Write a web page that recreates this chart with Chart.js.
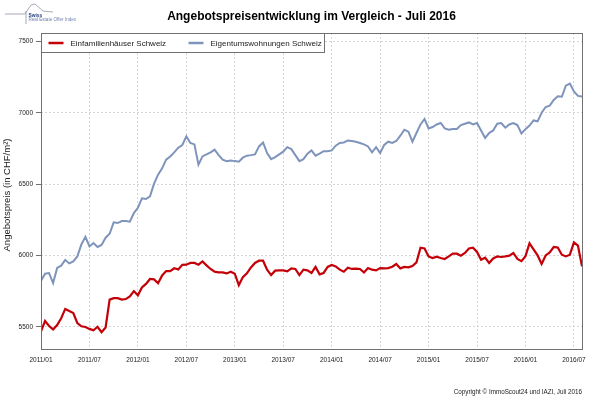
<!DOCTYPE html>
<html>
<head>
<meta charset="utf-8">
<script src="https://cdn.jsdelivr.net/npm/chart.js@4/dist/chart.umd.min.js"></script>
<style>
html,body{margin:0;padding:0;background:#ffffff;}
canvas{display:block;}
</style>
</head>
<body>
<canvas id="c" width="600" height="400"></canvas>
<script>
// ---- texts ----
const chartTitle = 'Angebotspreisentwicklung im Vergleich - Juli 2016';
const yAxisTitle = 'Angebotspreis (in CHF/m²)';
const seriesNames = ['Einfamilienhäuser Schweiz', 'Eigentumswohnungen Schweiz'];
const copyrightText = 'Copyright © ImmoScout24 und IAZI, Juli 2016';
const logoTitle = 'Swiss';
const logoSubtitle = 'Real Estate Offer Index';

// ---- axes ----
// x values are months since 2011/01; one reading every half month
const stepMonths = 0.5;
const xMinMonth = 0;
const xMaxMonth = 67;
const xTickMonths = [0, 6, 12, 18, 24, 30, 36, 42, 48, 54, 60, 66];
const xTickLabels = ['2011/01', '2011/07', '2012/01', '2012/07', '2013/01', '2013/07',
                     '2014/01', '2014/07', '2015/01', '2015/07', '2016/01', '2016/07'];
const yTickValues = [5500, 6000, 6500, 7000, 7500];
const yMin = 5344;
const yMax = 7559;

// ---- series (CHF/m2) ----
const einfamilienhaeuser = [
  5467, 5540, 5505, 5481, 5512, 5560, 5625, 5610, 5596, 5526,
  5503, 5498, 5485, 5475, 5500, 5462, 5495, 5690, 5700, 5700,
  5690, 5694, 5713, 5750, 5720, 5775, 5800, 5835, 5832, 5805,
  5860, 5890, 5890, 5910, 5902, 5934, 5935, 5947, 5947, 5935,
  5958, 5930, 5905, 5886, 5881, 5881, 5874, 5886, 5872, 5792,
  5848, 5874, 5916, 5947, 5963, 5963, 5900, 5862, 5893, 5895,
  5895, 5888, 5909, 5905, 5862, 5900, 5895, 5877, 5919, 5867,
  5877, 5919, 5933, 5923, 5900, 5886, 5914, 5905, 5907, 5905,
  5881, 5911, 5900, 5895, 5911, 5909, 5911, 5921, 5940, 5909,
  5919, 5916, 5926, 5951, 6054, 6049, 5993, 5982, 5991, 5982,
  5975, 5993, 6012, 6012, 5998, 6017, 6049, 6054, 6024, 5970,
  5984, 5947, 5979, 5993, 5989, 5993, 5998, 6017, 5975, 5960,
  5995, 6085, 6042, 6000, 5940, 6000, 6021, 6059, 6055, 6005,
  5993, 6005, 6091, 6068, 5923
];
const eigentumswohnungen = [
  5823, 5872, 5876, 5806, 5912, 5928, 5968, 5944, 5958, 5993,
  6077, 6130, 6063, 6087, 6059, 6073, 6124, 6152, 6232, 6227,
  6241, 6241, 6236, 6297, 6334, 6400, 6395, 6414, 6503, 6566,
  6610, 6671, 6694, 6722, 6755, 6774, 6834, 6788, 6778, 6636,
  6694, 6708, 6722, 6741, 6703, 6671, 6661, 6666, 6661, 6657,
  6685, 6699, 6703, 6708, 6764, 6792, 6717, 6675, 6689, 6708,
  6727, 6759, 6745, 6703, 6661, 6675, 6713, 6736, 6699, 6713,
  6731, 6731, 6736, 6769, 6788, 6792, 6806, 6802, 6797, 6788,
  6778, 6764, 6722, 6759, 6717, 6774, 6797, 6788, 6802, 6839,
  6881, 6867, 6797, 6858, 6918, 6956, 6890, 6900, 6918, 6928,
  6890, 6881, 6886, 6886, 6914, 6923, 6932, 6918, 6928, 6876,
  6823, 6858, 6876, 6923, 6928, 6895, 6918, 6928, 6914, 6855,
  6885, 6910, 6946, 6940, 7000, 7040, 7050, 7090, 7115, 7112,
  7190, 7205, 7150, 7118, 7114
];

// ---- styles ----
const FONT = "'Liberation Sans', Arial, Helvetica, sans-serif";
const colorRed = '#c40008';
const colorBlue = '#7f94bb';
const colorFrame = '#707070';
const colorGrid = '#d6d6d6';
const colorText = '#1a1a1a';

Chart.defaults.font.family = FONT;

const toPoints = arr => arr.map((v, i) => ({ x: xMinMonth + i * stepMonths, y: v }));

const decorPlugin = {
  id: 'decor',
  afterDraw(chart) {
    const ctx = chart.ctx;
    const a = chart.chartArea;
    ctx.save();

    // frame around plot
    const L = Math.round(a.left) + 0.5, T = Math.round(a.top) + 0.5;
    const R = Math.round(a.right) + 0.5, B = Math.round(a.bottom) + 0.5;
    ctx.strokeStyle = colorFrame;
    ctx.lineWidth = 1;
    ctx.setLineDash([]);
    ctx.strokeRect(L, T, R - L, B - T);

    // legend box
    const lgW = 283, lgH = 19;
    ctx.fillStyle = '#ffffff';
    ctx.fillRect(L, T, lgW, lgH);
    ctx.strokeStyle = colorFrame;
    ctx.strokeRect(L, T, lgW, lgH);
    const ly = T + 9.5;
    const entries = [
      { x: L + 7, color: colorRed, w: 2.5, text: seriesNames[0] },
      { x: L + 147, color: colorBlue, w: 2.5, text: seriesNames[1] }
    ];
    ctx.font = '8px ' + FONT;
    ctx.textBaseline = 'middle';
    ctx.textAlign = 'left';
    entries.forEach(e => {
      ctx.strokeStyle = e.color;
      ctx.lineWidth = e.w;
      ctx.beginPath();
      ctx.moveTo(e.x, ly);
      ctx.lineTo(e.x + 15, ly);
      ctx.stroke();
      ctx.fillStyle = colorText;
      ctx.fillText(e.text, e.x + 22, ly + 0.5);
    });

    // title
    ctx.fillStyle = '#000000';
    ctx.font = 'bold 12px ' + FONT;
    ctx.textAlign = 'center';
    ctx.textBaseline = 'middle';
    ctx.fillText(chartTitle, (a.left + a.right) / 2, 17);

    // y axis title
    ctx.save();
    ctx.translate(7, 195);
    ctx.rotate(-Math.PI / 2);
    ctx.font = '9.5px ' + FONT;
    ctx.fillStyle = colorText;
    ctx.textAlign = 'center';
    ctx.textBaseline = 'middle';
    ctx.fillText(yAxisTitle, 0, 0);
    ctx.restore();

    // copyright
    ctx.font = '6.3px ' + FONT;
    ctx.fillStyle = colorText;
    ctx.textAlign = 'right';
    ctx.textBaseline = 'middle';
    ctx.fillText(copyrightText, a.right, 392);

    // logo
    ctx.strokeStyle = '#8e96a6';
    ctx.lineWidth = 0.8;
    ctx.beginPath();
    ctx.moveTo(5, 14);
    ctx.lineTo(25, 14);
    ctx.lineTo(31, 5);
    ctx.lineTo(35, 4);
    ctx.lineTo(43, 11);
    ctx.lineTo(53, 12);
    ctx.moveTo(26, 11);
    ctx.lineTo(26, 24);
    ctx.stroke();
    ctx.textAlign = 'left';
    ctx.font = 'bold 4.8px ' + FONT;
    ctx.fillStyle = '#1f3f7a';
    ctx.fillText(logoTitle, 28.5, 15.5);
    ctx.font = '4.6px ' + FONT;
    ctx.fillStyle = '#6f84ad';
    ctx.fillText(logoSubtitle, 28.5, 20);

    ctx.restore();
  }
};

new Chart(document.getElementById('c').getContext('2d'), {
  type: 'line',
  data: {
    datasets: [
      { label: seriesNames[0], data: toPoints(einfamilienhaeuser), borderColor: colorRed,
        borderWidth: 2.2, pointRadius: 0, tension: 0, fill: false },
      { label: seriesNames[1], data: toPoints(eigentumswohnungen), borderColor: colorBlue,
        borderWidth: 2, pointRadius: 0, tension: 0, fill: false }
    ]
  },
  options: {
    responsive: false,
    animation: false,
    layout: { padding: { top: 33, right: 18, left: 0, bottom: 0 } },
    plugins: { legend: { display: false }, tooltip: { enabled: false }, title: { display: false } },
    scales: {
      x: {
        type: 'linear',
        min: xMinMonth,
        max: xMaxMonth,
        afterBuildTicks: s => { s.ticks = xTickMonths.map(v => ({ value: v })); },
        afterFit: s => { s.height = 51; },
        ticks: {
          autoSkip: false, maxRotation: 0, padding: 7, color: colorText,
          font: { size: 6.5 },
          callback: v => { const k = xTickMonths.indexOf(v); return k >= 0 ? xTickLabels[k] : ''; }
        },
        grid: { color: colorGrid, lineWidth: 1, drawTicks: false },
        border: { display: false, dash: [2, 2] }
      },
      y: {
        type: 'linear',
        min: yMin,
        max: yMax,
        afterBuildTicks: s => { s.ticks = yTickValues.map(v => ({ value: v })); },
        afterFit: s => { s.width = 41; },
        ticks: { padding: 3, color: colorText, font: { size: 6.5 }, callback: v => String(v) },
        grid: { color: colorGrid, lineWidth: 1, drawTicks: true, tickLength: 5,
                tickColor: colorFrame, tickBorderDash: [] },
        border: { display: false, dash: [2, 2] }
      }
    }
  },
  plugins: [decorPlugin]
});
</script>
</body>
</html>
